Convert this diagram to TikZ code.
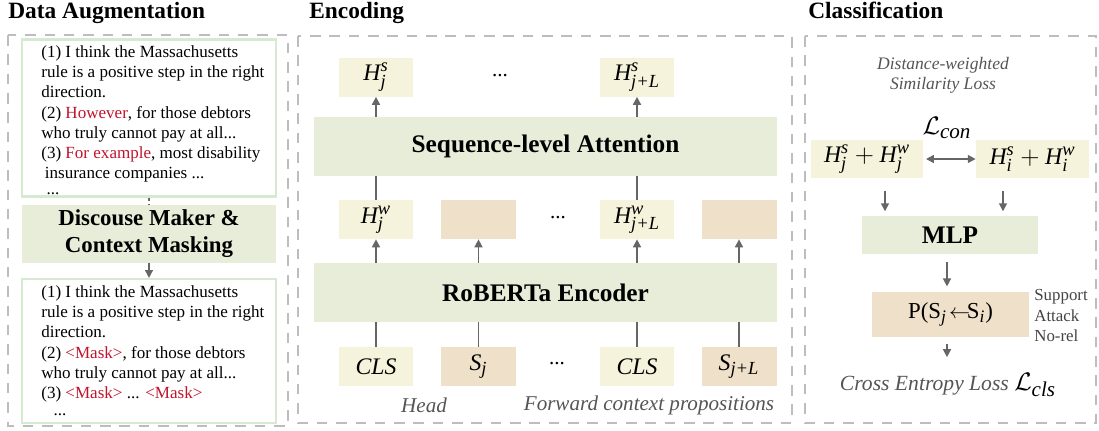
\documentclass[tikz,border=0pt]{standalone}
\usepackage{fontspec}
\setmainfont{Liberation Serif}
\usetikzlibrary{arrows.meta,positioning,calc}

\definecolor{panelgray}{HTML}{BDBDBD}
\definecolor{arrgray}{HTML}{666666}
\definecolor{hyel}{HTML}{F5F3DC}
\definecolor{sbeige}{HTML}{EFE0C9}
\definecolor{lgreen}{HTML}{E7EDD9}
\definecolor{fgreen}{HTML}{D5EAD0}
\definecolor{mred}{HTML}{C0142B}
\definecolor{tgray}{HTML}{555555}

\newcommand{\scr}[2][10.5]{\mbox{\fontsize{#1}{12}\selectfont\itshape #2}}
\newcommand{\hvar}[2]{\mathit{H}^{\scr{#1}}_{\scr{#2}}}

\begin{document}
\begin{tikzpicture}[x=0.02cm,y=-0.02cm,
    panel/.style={draw=panelgray, line width=1.1pt, dash pattern=on 6pt off 5pt},
    arr/.style={draw=arrgray, line width=0.9pt, -{Triangle[length=4.5pt,width=4.5pt]}},
    ln/.style={draw=arrgray, line width=0.9pt},
    title/.style={anchor=base west, inner sep=0pt, font=\bfseries\fontsize{13.3}{16}\selectfont},
    frame/.style={draw=fgreen, line width=1.2pt, minimum width=5.08cm, inner sep=0pt},
    txt/.style={anchor=north west, align=left, inner sep=0pt, font=\fontsize{9.7}{11.55}\selectfont},
    hbox/.style={fill=hyel, minimum width=1.5cm, minimum height=0.78cm, inner sep=0pt, font=\fontsize{13.5}{16}\selectfont},
    sbox/.style={hbox, fill=sbeige},
    layer/.style={fill=lgreen, minimum width=9.26cm, minimum height=1.18cm, inner sep=0pt, font=\bfseries\fontsize{14.4}{17}\selectfont},
    note/.style={text=tgray, inner sep=0pt, font=\itshape\fontsize{12}{14}\selectfont},
    dots/.style={inner sep=0pt, font=\fontsize{12}{14}\selectfont}
]
\useasboundingbox (0,0) rectangle (1099,430);

% panels
\draw[panel] (8,35) rectangle (288,426);
\draw[panel] (298,36) rectangle (792,423);
\draw[panel] (805,36) rectangle (1096,423);
\node[title] at (8,18) {Data Augmentation};
\node[title] at (309,18) {Encoding};
\node[title] at (808,18) {Classification};

% data augmentation
\node[frame, minimum height=3.14cm] (orig) at (149,118) {};
\node[txt] (origtxt) at (41,45) {(1) I think the Massachusetts\\
rule is a positive step in the right\\
direction.\\
(2) \textcolor{mred}{However}, for those debtors\\
who truly cannot pay at all...\\
(3) \textcolor{mred}{For example}, most disability\\
\hspace{2pt}insurance companies ...\\[-2.5pt]
\hspace{3pt}...};
\node[fill=lgreen, minimum width=5.08cm, minimum height=1.16cm, inner sep=0pt, align=center,
      font=\bfseries\fontsize{13}{15.4}\selectfont] (disc) at (149,234) {Discouse Maker \&\\Context Masking};
\node[frame, minimum height=2.88cm] (masked) at (149,351) {};
\node[txt] (maskedtxt) at (41,285) {(1) I think the Massachusetts\\
rule is a positive step in the right\\
direction.\\
(2) \textcolor{mred}{<Mask>}, for those debtors\\
who truly cannot pay at all...\\
(3) \textcolor{mred}{<Mask>} ... \textcolor{mred}{<Mask>}\\[-2pt]
\hspace{7pt}...};
\draw[ln, dashed, dash pattern=on 2pt off 1.5pt] (orig.south -| disc) -- (disc);
\draw[arr] (disc) ++(0,29) -- (masked.north);

% encoding
\node[hbox] (hs1) at (376,77) {$\hvar{s}{j}$};
\node[dots] (hsdots) at (500,76) {...};
\node[hbox] (hs2) at (637,77) {$\hvar{s}{j+L}$};
\node[layer] (att) at (545.5,146.5) {Sequence-level Attention};
\foreach \x/\n/\s/\c in {376/hw1/hbox/{$\hvar{w}{j}$},478.5/ctx1/sbox/{},637/hw2/hbox/{$\hvar{w}{j+L}$},739/ctx2/sbox/{}}{
    \node[\s] (\n) at (\x,219.5) {\c};
}
\node[dots] at (558,218) {...};
\node[layer] (enc) at (545.5,292.5) {RoBERTa Encoder};
\foreach \x/\n/\s/\c in {376/cls1/hbox/{$\mathit{CLS}$},478.5/sj/sbox/{$\mathit{S}_{\scr{j}}$},637/cls2/hbox/{$\mathit{CLS}$},739/sjl/sbox/{$\mathit{S}_{\scr{j+L}}$}}{
    \node[\s] (\n) at (\x,366.5) {\c};
}
\node[dots] at (557,364) {...};
\node[note] at (424,405) {Head};
\node[note] at (649,405) {Forward context propositions};

\foreach \n in {hs1,hs2}{
    \draw[arr] (\n |- att.north) -- (\n);
}
\foreach \n in {hw1,hw2}{
    \draw[ln] (\n) -- (\n |- att.south);
}
\foreach \n in {hw1,ctx1,hw2,ctx2}{
    \draw[arr] (\n |- enc.north) -- (\n);
}
\foreach \n in {cls1,sj,cls2,sjl}{
    \draw[ln] (\n) -- (\n |- enc.south);
}

% classification
\node[note, align=center, font=\itshape\fontsize{10}{11.6}\selectfont] (dist) at (943,75) {Distance-weighted\\Similarity Loss};
\node[hbox, minimum width=2.24cm, minimum height=0.76cm] (hl) at (867,159) {$\hvar{s}{j} + \hvar{w}{j}$};
\node[hbox, minimum width=2.26cm, minimum height=0.76cm] (hr) at (1032.5,159) {$\hvar{s}{i} + \hvar{w}{i}$};
\node[inner sep=0pt, font=\fontsize{15}{17}\selectfont] (lcon) at (947,128) {$\mathcal{L}_{\scr[12]{con}}$};
\draw[ln, {Triangle[length=4.5pt,width=4.5pt]}-{Triangle[length=4.5pt,width=4.5pt]}] (hl) ++(59,0) coordinate (dl) -- (hr.west);
\node[layer, minimum width=3.52cm, minimum height=0.76cm] (mlp) at (950,235) {MLP};
\draw[arr, shorten <=7pt, shorten >=2.5pt] (hl.south -| 885,0) -- (mlp.north -| 885,0);
\draw[arr, shorten <=7pt, shorten >=2.5pt] (hr.south -| 1003,0) -- (mlp.north -| 1003,0);
\node[fill=sbeige, minimum width=3.14cm, minimum height=0.9cm, inner sep=0pt,
      font=\fontsize{13}{15}\selectfont] (prob) at (950.5,314.5) {P(S$_{\scr[10]{j}}\!\leftarrow\!$S$_{\scr[10]{i}}$)};
\node[anchor=west, align=left, inner sep=0pt, text=tgray!80!black, font=\fontsize{9.6}{11.4}\selectfont] (rels) at (1034,315.5) {Support\\Attack\\No-rel};
\node[inner sep=0pt, font=\fontsize{12.3}{14}\selectfont] (ce) at (948,385) {\textcolor{tgray}{\itshape Cross Entropy Loss} {\fontsize{15}{17}\selectfont$\mathcal{L}_{\scr[12]{cls}}$}};
\draw[arr, shorten <=4.5pt, shorten >=3pt] (mlp.south -| 947,0) -- (prob.north -| 947,0);
\draw[arr, shorten <=4pt, shorten >=9pt] (prob.south -| 947,0) -- (ce.north -| 947,0);
\end{tikzpicture}
\end{document}
